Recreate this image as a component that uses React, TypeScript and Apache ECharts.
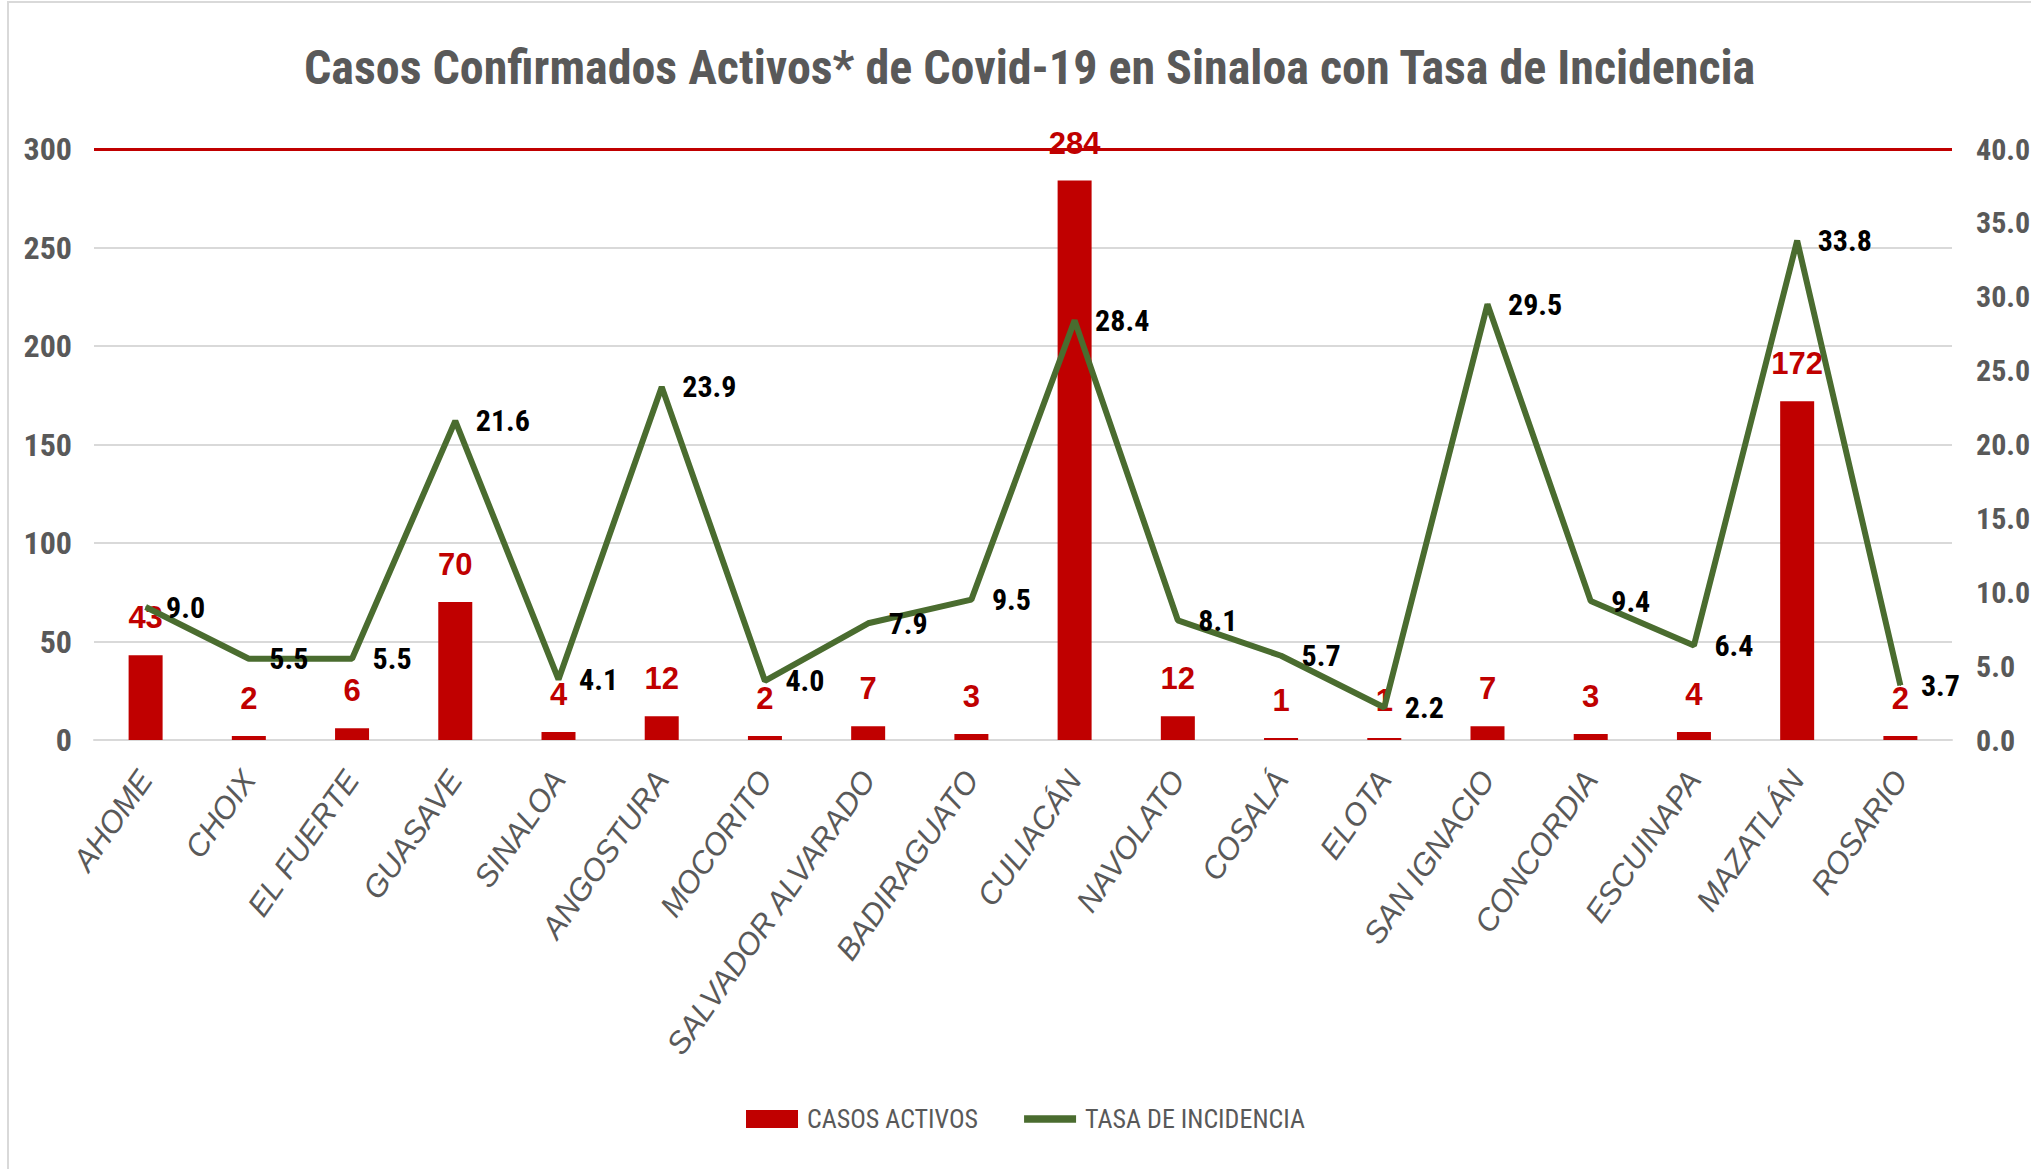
import React, { useEffect, useRef } from "react";
import * as echarts from "echarts";

const categories = [
  "AHOME", "CHOIX", "EL FUERTE", "GUASAVE", "SINALOA", "ANGOSTURA", "MOCORITO",
  "SALVADOR ALVARADO", "BADIRAGUATO", "CULIACÁN", "NAVOLATO", "COSALÁ", "ELOTA",
  "SAN IGNACIO", "CONCORDIA", "ESCUINAPA", "MAZATLÁN", "ROSARIO",
];
const casosActivos = [43, 2, 6, 70, 4, 12, 2, 7, 3, 284, 12, 1, 1, 7, 3, 4, 172, 2];
const tasaIncidencia = [9.0, 5.5, 5.5, 21.6, 4.1, 23.9, 4.0, 7.9, 9.5, 28.4, 8.1, 5.7, 2.2, 29.5, 9.4, 6.4, 33.8, 3.7];
const leftAxis = { min: 0, max: 300, interval: 50 };
const rightAxis = { min: 0, max: 40, interval: 5 };
const refLineValue = 300;
const titleText = "Casos Confirmados Activos* de Covid-19 en Sinaloa con Tasa de Incidencia";
const seriesNames = ["CASOS ACTIVOS", "TASA DE INCIDENCIA"];

const NARROW = "'Liberation Sans Narrow', 'Arial Narrow', 'Roboto Condensed', sans-serif";
const SANS = "'Liberation Sans', Arial, sans-serif";
const RED = "#c00000";
const GREEN = "#4a6c2f";
const GRAY = "#595959";

export default function App() {
  const ref = useRef<HTMLDivElement>(null);
  useEffect(() => {
    if (!ref.current) return;
    const chart = echarts.init(ref.current, null, { renderer: "svg" });
    chart.setOption({
      animation: false,
      backgroundColor: "#ffffff",
      graphic: [
        {
          type: "rect",
          shape: { x: 8, y: 2, width: 2100, height: 1250 },
          style: { fill: "none", stroke: "#d9d9d9", lineWidth: 2 },
          silent: true,
        },
      ],
      title: {
        text: titleText,
        left: 304,
        top: 43,
        padding: 0,
        textStyle: { fontFamily: NARROW, fontWeight: "bold", fontSize: 48, color: GRAY },
      },
      legend: {
        left: 746,
        top: 1106,
        padding: 0,
        itemWidth: 52,
        itemHeight: 18,
        itemGap: 46,
        textStyle: { fontFamily: NARROW, fontSize: 26, color: GRAY, padding: [0, 0, 0, 4] },
        data: [
          { name: seriesNames[0], icon: "rect" },
          { name: seriesNames[1], icon: "path://M0 0 H100 V14 H0 Z" },
        ],
      },
      grid: {
        left: 94,
        right: 79,
        top: 149,
        bottom: 429,
        containLabel: false,
        outerBoundsMode: "none",
      },
      xAxis: {
        type: "category",
        data: categories,
        axisLine: { show: true, lineStyle: { color: "#d9d9d9", width: 2 } },
        axisTick: { show: false },
        axisLabel: {
          rotate: 55,
          interval: 0,
          margin: 34,
          fontFamily: SANS,
          fontStyle: "italic",
          fontSize: 31,
          color: GRAY,
        },
      },
      yAxis: [
        {
          type: "value",
          min: leftAxis.min,
          max: leftAxis.max,
          interval: leftAxis.interval,
          axisLine: { show: false },
          axisTick: { show: false },
          splitLine: { lineStyle: { color: "#d9d9d9", width: 2 } },
          axisLabel: { margin: 22, fontFamily: NARROW, fontWeight: "bold", fontSize: 32, color: GRAY },
        },
        {
          type: "value",
          min: rightAxis.min,
          max: rightAxis.max,
          interval: rightAxis.interval,
          axisLine: { show: false },
          axisTick: { show: false },
          splitLine: { show: false },
          axisLabel: {
            margin: 24,
            fontFamily: NARROW,
            fontWeight: "bold",
            fontSize: 30,
            color: GRAY,
            formatter: (v: number) => v.toFixed(1),
          },
        },
      ],
      series: [
        {
          name: seriesNames[0],
          type: "bar",
          data: casosActivos,
          yAxisIndex: 0,
          barWidth: 34,
          itemStyle: { color: RED },
          label: {
            show: true,
            position: "top",
            distance: 22,
            color: RED,
            fontFamily: SANS,
            fontWeight: "bold",
            fontSize: 31,
          },
          markLine: {
            silent: true,
            symbol: "none",
            label: { show: false },
            lineStyle: { color: RED, width: 3, type: "solid" },
            data: [{ yAxis: refLineValue }],
          },
          z: 2,
        },
        {
          name: seriesNames[1],
          type: "line",
          data: tasaIncidencia,
          yAxisIndex: 1,
          symbol: "circle",
          symbolSize: 1,
          showSymbol: true,
          lineStyle: { color: GREEN, width: 6 },
          itemStyle: { color: GREEN },
          label: {
            show: true,
            position: "right",
            distance: 20,
            color: "#000000",
            fontFamily: NARROW,
            fontWeight: "bold",
            fontSize: 30,
            formatter: (p: any) => Number(p.value).toFixed(1),
          },
          z: 3,
        },
      ],
    });
    return () => chart.dispose();
  }, []);
  return (
    <div
      ref={ref}
      style={{ position: "fixed", left: 0, top: 0, width: 2031, height: 1169 }}
    />
  );
}
